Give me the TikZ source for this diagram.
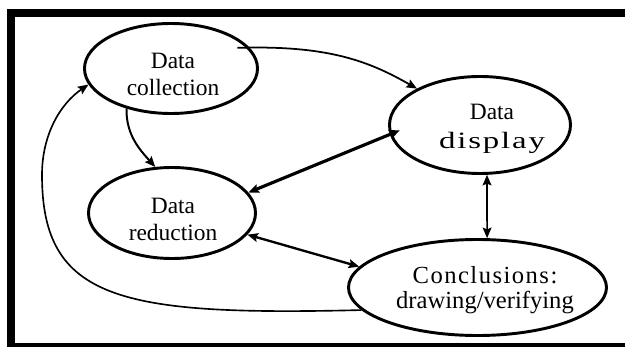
\documentclass[tikz,border=0pt]{standalone}
\usepackage{fontspec}
\setmainfont{Liberation Serif}
\usetikzlibrary{arrows.meta,shapes.geometric}
\begin{document}
\begin{tikzpicture}[x=0.03cm,y=-0.03cm,
  ell/.style={draw, ellipse, line width=2.5pt, inner sep=0pt},
  txt/.style={align=center, font=\fontsize{20}{23}\selectfont, inner sep=0pt},
  hd/.tip={Stealth[length=9pt,width=7.5pt,inset=1.5pt]},
  conn/.style={line width=#1},
]
\useasboundingbox (0,0) rectangle (625,347);
% frame
\fill (8,9) rectangle (625,17);
\fill (7,9) rectangle (15,347);
\fill (7,342.5) rectangle (625,347);

% ellipses
\node[ell, minimum width=5.19cm, minimum height=2.70cm] (collection) at (171,68.5) {};
\node[ell, minimum width=5.43cm, minimum height=2.91cm] (display) at (480,125) {};
\node[ell, minimum width=5.01cm, minimum height=2.73cm] (reduction) at (172,213) {};
\node[ell, minimum width=7.74cm, minimum height=2.88cm] (conclusions) at (477.5,287.5) {};

% texts
\node[txt] (tcol) at (173,74) {Data\\collection};
\node[txt, font=\fontsize{20}{24.5}\selectfont] (tdis) at (492,129) {Data\\{\addfontfeature{FakeStretch=1.4,LetterSpace=8}display}};
\node[txt] (tred) at (173,219) {Data\\reduction};
\node[txt, font=\fontsize{21}{21.5}\selectfont] (tcon) at (485,290) {{\addfontfeature{LetterSpace=6}Conclusions:}\\drawing/verifying};

% connectors
\draw[conn=1.5pt, -hd, shorten <=-0.36cm] (collection.15) .. controls (330,45) and (370,62) .. (display.150);
\draw[conn=1.7pt, -hd] (collection.222) .. controls (126,135) and (140,150) .. (reduction.110);
\draw[conn=2.7pt, hd-hd, shorten <=-0.33cm] (display.186) -- (reduction.15);
\draw[conn=2pt, hd-hd] (reduction.-16) -- (conclusions.170);
\draw[conn=1.4pt, hd-hd] (display.-82) -- (conclusions.79);
\draw[conn=1.4pt, -hd] (conclusions.191) .. controls (120,316) and (42,300) .. (42,175)
  .. controls (42,135) and (60,104) .. (collection.191);
\end{tikzpicture}
\end{document}
